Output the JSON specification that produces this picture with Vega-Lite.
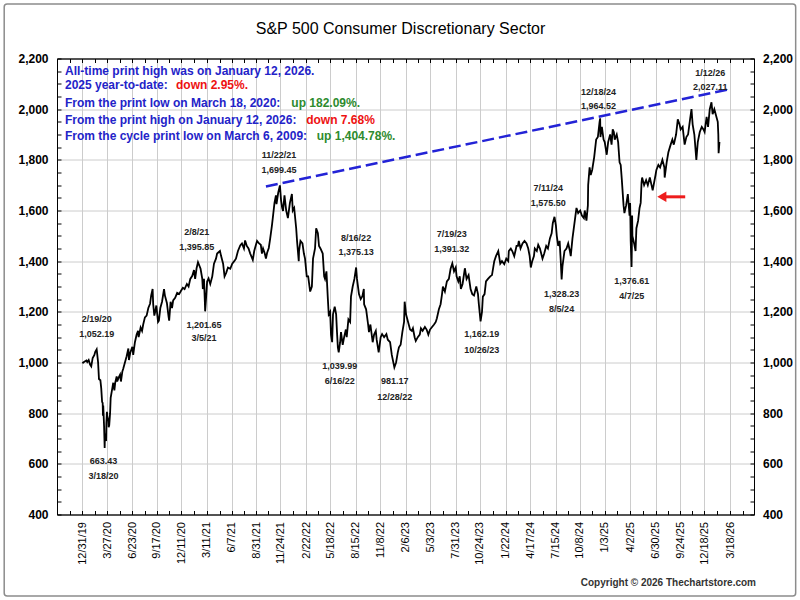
{
  "$schema": "https://vega.github.io/schema/vega-lite/v6.json",
  "width": 697,
  "height": 456,
  "autosize": "none",
  "padding": {"left": 57, "top": 58.5, "right": 46, "bottom": 85.5},
  "background": "white",
  "title": {
    "text": "S&P 500 Consumer Discretionary Sector",
    "fontSize": 16,
    "fontWeight": "normal",
    "color": "black",
    "anchor": "middle",
    "frame": "group",
    "baseline": "alphabetic",
    "offset": -47,
    "dx": -5
  },
  "config": {
    "font": "Liberation Sans",
    "view": {"stroke": "black", "strokeWidth": 1},
    "axis": {"domainColor": "black", "tickColor": "black", "gridColor": "#cccccc", "labelColor": "black"}
  },
  "datasets": {
    "price": [
      {"d":"2019-12-31","v":997},{"d":"2020-01-03","v":1000},{"d":"2020-01-08","v":1004},{"d":"2020-01-14","v":1008},
      {"d":"2020-01-17","v":1002},{"d":"2020-01-22","v":1010},{"d":"2020-01-27","v":992},{"d":"2020-01-31","v":985},
      {"d":"2020-02-05","v":1018},{"d":"2020-02-11","v":1030},{"d":"2020-02-14","v":1042},{"d":"2020-02-19","v":1052},
      {"d":"2020-02-21","v":1032},{"d":"2020-02-24","v":1000},{"d":"2020-02-27","v":935},{"d":"2020-03-03","v":930},
      {"d":"2020-03-06","v":898},{"d":"2020-03-09","v":845},{"d":"2020-03-11","v":840},{"d":"2020-03-12","v":790},
      {"d":"2020-03-13","v":830},{"d":"2020-03-16","v":747},{"d":"2020-03-18","v":663},{"d":"2020-03-19","v":720},
      {"d":"2020-03-20","v":700},{"d":"2020-03-23","v":690},{"d":"2020-03-24","v":760},{"d":"2020-03-26","v":805},
      {"d":"2020-03-27","v":790},{"d":"2020-03-31","v":770},{"d":"2020-04-01","v":745},{"d":"2020-04-03","v":752},
      {"d":"2020-04-06","v":800},{"d":"2020-04-08","v":860},{"d":"2020-04-14","v":900},{"d":"2020-04-17","v":920},
      {"d":"2020-04-21","v":890},{"d":"2020-04-24","v":920},{"d":"2020-04-29","v":945},{"d":"2020-05-01","v":925},
      {"d":"2020-05-06","v":940},{"d":"2020-05-11","v":952},{"d":"2020-05-14","v":925},{"d":"2020-05-19","v":965},
      {"d":"2020-05-22","v":975},{"d":"2020-05-28","v":1000},{"d":"2020-06-03","v":1025},{"d":"2020-06-09","v":1055},
      {"d":"2020-06-11","v":1010},{"d":"2020-06-16","v":1040},{"d":"2020-06-23","v":1062},{"d":"2020-06-26","v":1030},
      {"d":"2020-07-02","v":1080},{"d":"2020-07-08","v":1110},{"d":"2020-07-13","v":1125},{"d":"2020-07-15","v":1100},
      {"d":"2020-07-22","v":1138},{"d":"2020-07-27","v":1125},{"d":"2020-07-31","v":1150},{"d":"2020-08-06","v":1178},
      {"d":"2020-08-12","v":1185},{"d":"2020-08-18","v":1215},{"d":"2020-08-24","v":1232},{"d":"2020-08-28","v":1265},
      {"d":"2020-09-02","v":1290},{"d":"2020-09-04","v":1230},{"d":"2020-09-08","v":1185},{"d":"2020-09-11","v":1200},
      {"d":"2020-09-15","v":1225},{"d":"2020-09-21","v":1160},{"d":"2020-09-24","v":1165},{"d":"2020-09-29","v":1215},
      {"d":"2020-10-05","v":1240},{"d":"2020-10-12","v":1290},{"d":"2020-10-15","v":1265},{"d":"2020-10-22","v":1235},
      {"d":"2020-10-28","v":1180},{"d":"2020-10-30","v":1165},{"d":"2020-11-04","v":1240},{"d":"2020-11-09","v":1215},
      {"d":"2020-11-13","v":1245},{"d":"2020-11-20","v":1255},{"d":"2020-11-27","v":1275},{"d":"2020-12-04","v":1270},
      {"d":"2020-12-10","v":1282},{"d":"2020-12-17","v":1295},{"d":"2020-12-23","v":1290},{"d":"2020-12-31","v":1310},
      {"d":"2021-01-06","v":1300},{"d":"2021-01-12","v":1330},{"d":"2021-01-19","v":1342},{"d":"2021-01-25","v":1365},
      {"d":"2021-01-29","v":1330},{"d":"2021-02-03","v":1372},{"d":"2021-02-08","v":1396},{"d":"2021-02-12","v":1385},
      {"d":"2021-02-17","v":1370},{"d":"2021-02-23","v":1330},{"d":"2021-02-25","v":1290},{"d":"2021-03-01","v":1330},
      {"d":"2021-03-04","v":1240},{"d":"2021-03-05","v":1202},{"d":"2021-03-08","v":1250},{"d":"2021-03-12","v":1320},
      {"d":"2021-03-17","v":1332},{"d":"2021-03-23","v":1310},{"d":"2021-03-30","v":1340},{"d":"2021-04-05","v":1390},
      {"d":"2021-04-12","v":1410},{"d":"2021-04-16","v":1430},{"d":"2021-04-26","v":1440},{"d":"2021-04-30","v":1420},
      {"d":"2021-05-07","v":1390},{"d":"2021-05-12","v":1340},{"d":"2021-05-18","v":1355},{"d":"2021-05-24","v":1375},
      {"d":"2021-06-01","v":1370},{"d":"2021-06-08","v":1390},{"d":"2021-06-15","v":1400},{"d":"2021-06-21","v":1410},
      {"d":"2021-06-28","v":1440},{"d":"2021-07-06","v":1462},{"d":"2021-07-12","v":1470},{"d":"2021-07-19","v":1450},
      {"d":"2021-07-23","v":1482},{"d":"2021-07-29","v":1460},{"d":"2021-08-04","v":1450},{"d":"2021-08-10","v":1430},
      {"d":"2021-08-19","v":1405},{"d":"2021-08-24","v":1440},{"d":"2021-08-30","v":1465},{"d":"2021-09-03","v":1480},
      {"d":"2021-09-10","v":1470},{"d":"2021-09-16","v":1465},{"d":"2021-09-20","v":1430},{"d":"2021-09-24","v":1450},
      {"d":"2021-09-30","v":1430},{"d":"2021-10-04","v":1410},{"d":"2021-10-08","v":1432},{"d":"2021-10-14","v":1452},
      {"d":"2021-10-19","v":1490},{"d":"2021-10-25","v":1540},{"d":"2021-10-29","v":1580},{"d":"2021-11-03","v":1630},
      {"d":"2021-11-08","v":1660},{"d":"2021-11-10","v":1625},{"d":"2021-11-16","v":1670},{"d":"2021-11-22","v":1699},
      {"d":"2021-11-26","v":1640},{"d":"2021-11-30","v":1610},{"d":"2021-12-03","v":1598},{"d":"2021-12-08","v":1660},
      {"d":"2021-12-14","v":1600},{"d":"2021-12-20","v":1570},{"d":"2021-12-27","v":1630},{"d":"2022-01-03","v":1665},
      {"d":"2022-01-06","v":1600},{"d":"2022-01-11","v":1610},{"d":"2022-01-18","v":1530},{"d":"2022-01-21","v":1480},
      {"d":"2022-01-27","v":1400},{"d":"2022-01-28","v":1440},{"d":"2022-02-02","v":1480},{"d":"2022-02-09","v":1470},
      {"d":"2022-02-14","v":1430},{"d":"2022-02-18","v":1410},{"d":"2022-02-24","v":1340},{"d":"2022-03-01","v":1340},
      {"d":"2022-03-08","v":1280},{"d":"2022-03-14","v":1300},{"d":"2022-03-18","v":1410},{"d":"2022-03-25","v":1450},
      {"d":"2022-03-29","v":1530},{"d":"2022-04-04","v":1510},{"d":"2022-04-08","v":1460},{"d":"2022-04-13","v":1450},
      {"d":"2022-04-21","v":1430},{"d":"2022-04-26","v":1340},{"d":"2022-04-29","v":1330},{"d":"2022-05-04","v":1360},
      {"d":"2022-05-09","v":1250},{"d":"2022-05-12","v":1190},{"d":"2022-05-17","v":1200},{"d":"2022-05-20","v":1110},
      {"d":"2022-05-24","v":1080},{"d":"2022-05-27","v":1190},{"d":"2022-06-02","v":1220},{"d":"2022-06-07","v":1190},
      {"d":"2022-06-10","v":1120},{"d":"2022-06-13","v":1060},{"d":"2022-06-16","v":1040},{"d":"2022-06-21","v":1080},
      {"d":"2022-06-24","v":1120},{"d":"2022-06-30","v":1070},{"d":"2022-07-05","v":1100},{"d":"2022-07-11","v":1130},
      {"d":"2022-07-14","v":1100},{"d":"2022-07-20","v":1170},{"d":"2022-07-26","v":1160},{"d":"2022-07-29","v":1260},
      {"d":"2022-08-04","v":1300},{"d":"2022-08-10","v":1330},{"d":"2022-08-16","v":1375},{"d":"2022-08-19","v":1330},
      {"d":"2022-08-26","v":1270},{"d":"2022-09-01","v":1250},{"d":"2022-09-07","v":1262},{"d":"2022-09-12","v":1290},
      {"d":"2022-09-13","v":1230},{"d":"2022-09-20","v":1210},{"d":"2022-09-27","v":1150},{"d":"2022-09-30","v":1120},
      {"d":"2022-10-05","v":1150},{"d":"2022-10-13","v":1080},{"d":"2022-10-18","v":1110},{"d":"2022-10-24","v":1125},
      {"d":"2022-10-27","v":1090},{"d":"2022-11-03","v":1040},{"d":"2022-11-10","v":1100},{"d":"2022-11-15","v":1112},
      {"d":"2022-11-22","v":1100},{"d":"2022-11-30","v":1112},{"d":"2022-12-05","v":1090},{"d":"2022-12-13","v":1080},
      {"d":"2022-12-19","v":1030},{"d":"2022-12-28","v":981},{"d":"2023-01-03","v":1000},{"d":"2023-01-09","v":1040},
      {"d":"2023-01-13","v":1060},{"d":"2023-01-19","v":1070},{"d":"2023-01-25","v":1120},{"d":"2023-01-31","v":1160},
      {"d":"2023-02-02","v":1240},{"d":"2023-02-07","v":1190},{"d":"2023-02-14","v":1160},{"d":"2023-02-21","v":1130},
      {"d":"2023-02-27","v":1125},{"d":"2023-03-03","v":1135},{"d":"2023-03-09","v":1100},{"d":"2023-03-13","v":1085},
      {"d":"2023-03-20","v":1100},{"d":"2023-03-27","v":1110},{"d":"2023-03-31","v":1135},{"d":"2023-04-06","v":1125},
      {"d":"2023-04-14","v":1140},{"d":"2023-04-20","v":1130},{"d":"2023-04-26","v":1110},{"d":"2023-05-02","v":1130},
      {"d":"2023-05-09","v":1140},{"d":"2023-05-16","v":1150},{"d":"2023-05-22","v":1160},{"d":"2023-05-26","v":1175},
      {"d":"2023-06-02","v":1210},{"d":"2023-06-08","v":1230},{"d":"2023-06-13","v":1270},{"d":"2023-06-16","v":1300},
      {"d":"2023-06-23","v":1280},{"d":"2023-06-30","v":1320},{"d":"2023-07-07","v":1330},{"d":"2023-07-13","v":1370},
      {"d":"2023-07-19","v":1391},{"d":"2023-07-25","v":1360},{"d":"2023-07-31","v":1375},{"d":"2023-08-03","v":1340},
      {"d":"2023-08-09","v":1320},{"d":"2023-08-14","v":1340},{"d":"2023-08-18","v":1290},{"d":"2023-08-24","v":1310},
      {"d":"2023-09-01","v":1372},{"d":"2023-09-07","v":1330},{"d":"2023-09-14","v":1345},{"d":"2023-09-21","v":1290},
      {"d":"2023-09-27","v":1270},{"d":"2023-10-03","v":1265},{"d":"2023-10-11","v":1300},{"d":"2023-10-17","v":1270},
      {"d":"2023-10-20","v":1230},{"d":"2023-10-26","v":1162},{"d":"2023-10-31","v":1200},{"d":"2023-11-03","v":1260},
      {"d":"2023-11-09","v":1270},{"d":"2023-11-14","v":1320},{"d":"2023-11-21","v":1330},{"d":"2023-11-29","v":1340},
      {"d":"2023-12-05","v":1345},{"d":"2023-12-13","v":1400},{"d":"2023-12-19","v":1420},{"d":"2023-12-27","v":1440},
      {"d":"2024-01-03","v":1390},{"d":"2024-01-09","v":1400},{"d":"2024-01-17","v":1388},{"d":"2024-01-24","v":1410},
      {"d":"2024-01-31","v":1400},{"d":"2024-02-02","v":1440},{"d":"2024-02-09","v":1450},{"d":"2024-02-14","v":1440},
      {"d":"2024-02-21","v":1420},{"d":"2024-02-29","v":1460},{"d":"2024-03-05","v":1460},{"d":"2024-03-08","v":1480},
      {"d":"2024-03-14","v":1450},{"d":"2024-03-21","v":1470},{"d":"2024-03-28","v":1480},{"d":"2024-04-04","v":1470},
      {"d":"2024-04-10","v":1450},{"d":"2024-04-15","v":1420},{"d":"2024-04-19","v":1375},{"d":"2024-04-24","v":1400},
      {"d":"2024-04-30","v":1420},{"d":"2024-05-03","v":1450},{"d":"2024-05-10","v":1440},{"d":"2024-05-15","v":1465},
      {"d":"2024-05-21","v":1450},{"d":"2024-05-30","v":1410},{"d":"2024-06-05","v":1430},{"d":"2024-06-12","v":1460},
      {"d":"2024-06-18","v":1450},{"d":"2024-06-25","v":1490},{"d":"2024-07-01","v":1510},{"d":"2024-07-05","v":1550},
      {"d":"2024-07-11","v":1575},{"d":"2024-07-16","v":1540},{"d":"2024-07-19","v":1500},{"d":"2024-07-24","v":1460},
      {"d":"2024-07-29","v":1480},{"d":"2024-08-02","v":1400},{"d":"2024-08-05","v":1328},{"d":"2024-08-08","v":1380},
      {"d":"2024-08-15","v":1440},{"d":"2024-08-22","v":1450},{"d":"2024-08-28","v":1470},{"d":"2024-09-03","v":1440},
      {"d":"2024-09-06","v":1420},{"d":"2024-09-12","v":1490},{"d":"2024-09-19","v":1550},{"d":"2024-09-26","v":1610},
      {"d":"2024-10-02","v":1590},{"d":"2024-10-09","v":1600},{"d":"2024-10-15","v":1580},{"d":"2024-10-22","v":1570},
      {"d":"2024-10-25","v":1600},{"d":"2024-10-31","v":1560},{"d":"2024-11-05","v":1620},{"d":"2024-11-06","v":1700},
      {"d":"2024-11-11","v":1770},{"d":"2024-11-15","v":1740},{"d":"2024-11-20","v":1760},{"d":"2024-11-27","v":1810},
      {"d":"2024-12-04","v":1880},{"d":"2024-12-10","v":1890},{"d":"2024-12-16","v":1950},{"d":"2024-12-18","v":1964},
      {"d":"2024-12-19","v":1890},{"d":"2024-12-24","v":1930},{"d":"2024-12-30","v":1880},{"d":"2025-01-03","v":1870},
      {"d":"2025-01-10","v":1820},{"d":"2025-01-15","v":1870},{"d":"2025-01-22","v":1900},{"d":"2025-01-27","v":1860},
      {"d":"2025-01-31","v":1920},{"d":"2025-02-04","v":1910},{"d":"2025-02-07","v":1880},{"d":"2025-02-14","v":1900},
      {"d":"2025-02-19","v":1870},{"d":"2025-02-24","v":1790},{"d":"2025-02-28","v":1780},{"d":"2025-03-04","v":1720},
      {"d":"2025-03-10","v":1620},{"d":"2025-03-13","v":1590},{"d":"2025-03-19","v":1620},{"d":"2025-03-25","v":1665},
      {"d":"2025-03-31","v":1580},{"d":"2025-04-02","v":1630},{"d":"2025-04-03","v":1560},{"d":"2025-04-04","v":1480},
      {"d":"2025-04-07","v":1377},{"d":"2025-04-08","v":1450},{"d":"2025-04-09","v":1580},{"d":"2025-04-10","v":1500},
      {"d":"2025-04-16","v":1470},{"d":"2025-04-21","v":1440},{"d":"2025-04-24","v":1530},{"d":"2025-04-30","v":1560},
      {"d":"2025-05-05","v":1610},{"d":"2025-05-09","v":1630},{"d":"2025-05-12","v":1710},{"d":"2025-05-14","v":1730},
      {"d":"2025-05-21","v":1700},{"d":"2025-05-28","v":1720},{"d":"2025-06-03","v":1700},{"d":"2025-06-10","v":1730},
      {"d":"2025-06-16","v":1700},{"d":"2025-06-20","v":1680},{"d":"2025-06-25","v":1710},{"d":"2025-06-30","v":1740},
      {"d":"2025-07-03","v":1760},{"d":"2025-07-10","v":1780},{"d":"2025-07-16","v":1770},{"d":"2025-07-24","v":1800},
      {"d":"2025-07-31","v":1770},{"d":"2025-08-01","v":1730},{"d":"2025-08-08","v":1790},{"d":"2025-08-14","v":1830},
      {"d":"2025-08-22","v":1860},{"d":"2025-08-28","v":1880},{"d":"2025-09-02","v":1860},{"d":"2025-09-10","v":1900},
      {"d":"2025-09-16","v":1960},{"d":"2025-09-22","v":1940},{"d":"2025-09-26","v":1920},{"d":"2025-10-03","v":1930},
      {"d":"2025-10-10","v":1860},{"d":"2025-10-16","v":1890},{"d":"2025-10-22","v":1900},{"d":"2025-10-29","v":1960},
      {"d":"2025-11-03","v":2000},{"d":"2025-11-07","v":1940},{"d":"2025-11-13","v":1900},{"d":"2025-11-20","v":1800},
      {"d":"2025-11-25","v":1870},{"d":"2025-12-02","v":1910},{"d":"2025-12-09","v":1930},{"d":"2025-12-15","v":1920},
      {"d":"2025-12-19","v":1910},{"d":"2025-12-26","v":1970},{"d":"2025-12-31","v":1930},{"d":"2026-01-06","v":2000},
      {"d":"2026-01-12","v":2027},{"d":"2026-01-16","v":1980},{"d":"2026-01-22","v":2000},{"d":"2026-01-28","v":1975},
      {"d":"2026-02-03","v":1950},{"d":"2026-02-05","v":1900},{"d":"2026-02-06","v":1826},{"d":"2026-02-09","v":1871}
    ],
    "notes": [
      {"d":"2020-02-19","v":1170,"t":"2/19/20"},{"d":"2020-02-19","v":1112,"t":"1,052.19"},
      {"d":"2020-03-14","v":611,"t":"663.43"},{"d":"2020-03-14","v":553,"t":"3/18/20"},
      {"d":"2021-02-04","v":1516,"t":"2/8/21"},{"d":"2021-02-04","v":1457,"t":"1,395.85"},
      {"d":"2021-03-01","v":1148,"t":"1,201.65"},{"d":"2021-03-01","v":1095,"t":"3/5/21"},
      {"d":"2021-11-19","v":1819,"t":"11/22/21"},{"d":"2021-11-19","v":1760,"t":"1,699.45"},
      {"d":"2022-08-16","v":1492,"t":"8/16/22"},{"d":"2022-08-16","v":1435,"t":"1,375.13"},
      {"d":"2022-06-20","v":986,"t":"1,039.99"},{"d":"2022-06-20","v":928,"t":"6/16/22"},
      {"d":"2022-12-29","v":928,"t":"981.17"},{"d":"2022-12-29","v":865,"t":"12/28/22"},
      {"d":"2023-07-17","v":1506,"t":"7/19/23"},{"d":"2023-07-17","v":1448,"t":"1,391.32"},
      {"d":"2023-10-30","v":1111,"t":"1,162.19"},{"d":"2023-10-30","v":1049,"t":"10/26/23"},
      {"d":"2024-06-19","v":1688,"t":"7/11/24"},{"d":"2024-06-19","v":1628,"t":"1,575.50"},
      {"d":"2024-08-05","v":1270,"t":"1,328.23"},{"d":"2024-08-05","v":1210,"t":"8/5/24"},
      {"d":"2024-12-12","v":2067,"t":"12/18/24"},{"d":"2024-12-12","v":2012,"t":"1,964.52"},
      {"d":"2025-04-08","v":1323,"t":"1,376.61"},{"d":"2025-04-08","v":1262,"t":"4/7/25"},
      {"d":"2026-01-08","v":2142,"t":"1/12/26"},{"d":"2026-01-08","v":2086,"t":"2,027.11"}
    ],
    "headBlue": [
      {"d":"2019-10-31","v":2152,"t":"All-time print high was on January 12, 2026."},
      {"d":"2019-10-31","v":2095,"t":"2025 year-to-date:"},
      {"d":"2019-10-31","v":2025,"t":"From the print low on March 18, 2020:"},
      {"d":"2019-10-31","v":1957,"t":"From the print high on January 12, 2026:"},
      {"d":"2019-10-31","v":1894,"t":"From the cycle print low on March 6, 2009:"}
    ],
    "headRed": [
      {"d":"2020-11-23","v":2095,"t":"down 2.95%."},
      {"d":"2022-02-22","v":1957,"t":"down 7.68%"}
    ],
    "headGreen": [
      {"d":"2022-01-01","v":2025,"t":"up 182.09%."},
      {"d":"2022-03-31","v":1894,"t":"up 1,404.78%."}
    ]
  },
  "resolve": {"axis": {"x": "independent", "y": "independent"}},
  "layer": [
    {
      "data": {"values": [{}]},
      "mark": {"type": "rect", "filled": false, "stroke": "#8c8c8c", "strokeWidth": 1.5, "cornerRadius": 3},
      "encoding": {
        "x": {"datum": {"year": 2019, "month": 4, "date": 1, "utc": true}, "type": "temporal", "axis": null},
        "x2": {"datum": {"year": 2026, "month": 11, "date": 3, "utc": true}},
        "y": {"datum": 2415, "type": "quantitative", "axis": null},
        "y2": {"datum": 78}
      }
    },
    {
      "data": {"name": "price"},
      "mark": {"type": "line", "color": "black", "strokeWidth": 1.8},
      "encoding": {
        "x": {
          "field": "d", "type": "temporal",
          "scale": {"type": "utc", "domain": [{"year": 2019, "month": 10, "date": 3, "utc": true}, {"year": 2026, "month": 6, "date": 10, "utc": true}]},
          "axis": {
            "orient": "bottom", "title": null, "grid": true,
            "gridOpacity": {"condition": {"test": "utchours(datum.value) == 12", "value": 0}, "value": 1},
            "tickSize": -4, "labelAngle": -90, "labelFontSize": 11, "labelPadding": 11,
            "labelOverlap": false, "labelFlush": false,
            "labelExpr": "utchours(datum.value) == 12 ? '' : utcFormat(datum.value, '%-m/%-d/%y')",
            "values": [
              {"year":2019,"month":12,"date":31,"utc":true},{"year":2020,"month":3,"date":27,"utc":true},{"year":2020,"month":6,"date":23,"utc":true},
              {"year":2020,"month":9,"date":17,"utc":true},{"year":2020,"month":12,"date":11,"utc":true},{"year":2021,"month":3,"date":11,"utc":true},
              {"year":2021,"month":6,"date":7,"utc":true},{"year":2021,"month":8,"date":31,"utc":true},{"year":2021,"month":11,"date":24,"utc":true},
              {"year":2022,"month":2,"date":22,"utc":true},{"year":2022,"month":5,"date":18,"utc":true},{"year":2022,"month":8,"date":15,"utc":true},
              {"year":2022,"month":11,"date":8,"utc":true},{"year":2023,"month":2,"date":6,"utc":true},{"year":2023,"month":5,"date":3,"utc":true},
              {"year":2023,"month":7,"date":31,"utc":true},{"year":2023,"month":10,"date":24,"utc":true},{"year":2024,"month":1,"date":22,"utc":true},
              {"year":2024,"month":4,"date":17,"utc":true},{"year":2024,"month":7,"date":15,"utc":true},{"year":2024,"month":10,"date":8,"utc":true},
              {"year":2025,"month":1,"date":3,"utc":true},{"year":2025,"month":4,"date":2,"utc":true},{"year":2025,"month":6,"date":30,"utc":true},
              {"year":2025,"month":9,"date":24,"utc":true},{"year":2025,"month":12,"date":18,"utc":true},{"year":2026,"month":3,"date":18,"utc":true},
              {"year":2019,"month":11,"date":17,"hours":12,"utc":true},{"year":2020,"month":2,"date":13,"hours":12,"utc":true},{"year":2020,"month":5,"date":10,"hours":12,"utc":true},
              {"year":2020,"month":8,"date":5,"hours":12,"utc":true},{"year":2020,"month":10,"date":29,"hours":12,"utc":true},{"year":2021,"month":1,"date":25,"hours":12,"utc":true},
              {"year":2021,"month":4,"date":24,"hours":12,"utc":true},{"year":2021,"month":7,"date":19,"hours":12,"utc":true},{"year":2021,"month":10,"date":12,"hours":12,"utc":true},
              {"year":2022,"month":1,"date":8,"hours":12,"utc":true},{"year":2022,"month":4,"date":5,"hours":12,"utc":true},{"year":2022,"month":7,"date":1,"hours":12,"utc":true},
              {"year":2022,"month":9,"date":26,"hours":12,"utc":true},{"year":2022,"month":12,"date":23,"hours":12,"utc":true},{"year":2023,"month":3,"date":21,"hours":12,"utc":true},
              {"year":2023,"month":6,"date":16,"hours":12,"utc":true},{"year":2023,"month":9,"date":11,"hours":12,"utc":true},{"year":2023,"month":12,"date":8,"hours":12,"utc":true},
              {"year":2024,"month":3,"date":5,"hours":12,"utc":true},{"year":2024,"month":5,"date":31,"hours":12,"utc":true},{"year":2024,"month":8,"date":26,"hours":12,"utc":true},
              {"year":2024,"month":11,"date":20,"hours":12,"utc":true},{"year":2025,"month":2,"date":16,"hours":12,"utc":true},{"year":2025,"month":5,"date":16,"hours":12,"utc":true},
              {"year":2025,"month":8,"date":12,"hours":12,"utc":true},{"year":2025,"month":11,"date":5,"hours":12,"utc":true},{"year":2026,"month":2,"date":1,"hours":12,"utc":true},
              {"year":2026,"month":5,"date":1,"hours":12,"utc":true}
            ]
          }
        },
        "y": {
          "field": "v", "type": "quantitative",
          "scale": {"domain": [400, 2200], "nice": false, "zero": false},
          "axis": {
            "orient": "left", "title": null, "grid": true,
            "gridOpacity": {"condition": {"test": "datum.value % 200 != 0", "value": 0}, "value": 1},
            "tickSize": -4, "labelFontSize": 12, "labelFontWeight": "bold", "labelPadding": 13, "labelOverlap": false,
            "labelExpr": "datum.value % 200 == 0 ? format(datum.value, ',') : ''",
            "values": [400,450,500,550,600,650,700,750,800,850,900,950,1000,1050,1100,1150,1200,1250,1300,1350,1400,1450,1500,1550,1600,1650,1700,1750,1800,1850,1900,1950,2000,2050,2100,2150,2200]
          }
        }
      }
    },
    {
      "data": {"values": [{"d": "2021-10-04", "v": 1695}, {"d": "2026-03-10", "v": 2077}]},
      "mark": {"type": "line", "color": "#2323d6", "strokeWidth": 2.5, "strokeDash": [12, 5]},
      "encoding": {
        "x": {
          "field": "d", "type": "temporal",
          "axis": {
            "orient": "top", "title": null, "grid": false, "labels": false, "tickSize": -4,
            "values": [
              {"year":2019,"month":12,"date":31,"utc":true},{"year":2020,"month":3,"date":27,"utc":true},{"year":2020,"month":6,"date":23,"utc":true},
              {"year":2020,"month":9,"date":17,"utc":true},{"year":2020,"month":12,"date":11,"utc":true},{"year":2021,"month":3,"date":11,"utc":true},
              {"year":2021,"month":6,"date":7,"utc":true},{"year":2021,"month":8,"date":31,"utc":true},{"year":2021,"month":11,"date":24,"utc":true},
              {"year":2022,"month":2,"date":22,"utc":true},{"year":2022,"month":5,"date":18,"utc":true},{"year":2022,"month":8,"date":15,"utc":true},
              {"year":2022,"month":11,"date":8,"utc":true},{"year":2023,"month":2,"date":6,"utc":true},{"year":2023,"month":5,"date":3,"utc":true},
              {"year":2023,"month":7,"date":31,"utc":true},{"year":2023,"month":10,"date":24,"utc":true},{"year":2024,"month":1,"date":22,"utc":true},
              {"year":2024,"month":4,"date":17,"utc":true},{"year":2024,"month":7,"date":15,"utc":true},{"year":2024,"month":10,"date":8,"utc":true},
              {"year":2025,"month":1,"date":3,"utc":true},{"year":2025,"month":4,"date":2,"utc":true},{"year":2025,"month":6,"date":30,"utc":true},
              {"year":2025,"month":9,"date":24,"utc":true},{"year":2025,"month":12,"date":18,"utc":true},{"year":2026,"month":3,"date":18,"utc":true},
              {"year":2019,"month":11,"date":17,"hours":12,"utc":true},{"year":2020,"month":2,"date":13,"hours":12,"utc":true},{"year":2020,"month":5,"date":10,"hours":12,"utc":true},
              {"year":2020,"month":8,"date":5,"hours":12,"utc":true},{"year":2020,"month":10,"date":29,"hours":12,"utc":true},{"year":2021,"month":1,"date":25,"hours":12,"utc":true},
              {"year":2021,"month":4,"date":24,"hours":12,"utc":true},{"year":2021,"month":7,"date":19,"hours":12,"utc":true},{"year":2021,"month":10,"date":12,"hours":12,"utc":true},
              {"year":2022,"month":1,"date":8,"hours":12,"utc":true},{"year":2022,"month":4,"date":5,"hours":12,"utc":true},{"year":2022,"month":7,"date":1,"hours":12,"utc":true},
              {"year":2022,"month":9,"date":26,"hours":12,"utc":true},{"year":2022,"month":12,"date":23,"hours":12,"utc":true},{"year":2023,"month":3,"date":21,"hours":12,"utc":true},
              {"year":2023,"month":6,"date":16,"hours":12,"utc":true},{"year":2023,"month":9,"date":11,"hours":12,"utc":true},{"year":2023,"month":12,"date":8,"hours":12,"utc":true},
              {"year":2024,"month":3,"date":5,"hours":12,"utc":true},{"year":2024,"month":5,"date":31,"hours":12,"utc":true},{"year":2024,"month":8,"date":26,"hours":12,"utc":true},
              {"year":2024,"month":11,"date":20,"hours":12,"utc":true},{"year":2025,"month":2,"date":16,"hours":12,"utc":true},{"year":2025,"month":5,"date":16,"hours":12,"utc":true},
              {"year":2025,"month":8,"date":12,"hours":12,"utc":true},{"year":2025,"month":11,"date":5,"hours":12,"utc":true},{"year":2026,"month":2,"date":1,"hours":12,"utc":true},
              {"year":2026,"month":5,"date":1,"hours":12,"utc":true}
            ]
          }
        },
        "y": {
          "field": "v", "type": "quantitative",
          "axis": {
            "orient": "right", "title": null, "grid": false,
            "tickSize": -4, "labelFontSize": 12, "labelFontWeight": "bold", "labelPadding": 12.5, "labelOverlap": false,
            "labelExpr": "datum.value % 200 == 0 ? format(datum.value, ',') : ''",
            "values": [400,450,500,550,600,650,700,750,800,850,900,950,1000,1050,1100,1150,1200,1250,1300,1350,1400,1450,1500,1550,1600,1650,1700,1750,1800,1850,1900,1950,2000,2050,2100,2150,2200]
          }
        }
      }
    },
    {
      "data": {"values": [{"d": "2025-07-22", "e": "2025-10-12", "v": 1654}]},
      "mark": {"type": "rule", "color": "#ee1c1c", "strokeWidth": 3},
      "encoding": {
        "x": {"field": "d", "type": "temporal", "axis": null},
        "x2": {"field": "e"},
        "y": {"field": "v", "type": "quantitative", "axis": null}
      }
    },
    {
      "data": {"values": [{"d": "2025-07-22", "v": 1654}]},
      "mark": {"type": "point", "shape": "triangle-left", "filled": true, "color": "#ee1c1c", "size": 110, "opacity": 1},
      "encoding": {
        "x": {"field": "d", "type": "temporal", "axis": null},
        "y": {"field": "v", "type": "quantitative", "axis": null}
      }
    },
    {
      "data": {"name": "notes"},
      "mark": {"type": "text", "fontSize": 9, "fontWeight": "bold", "color": "#222222", "align": "center", "baseline": "middle"},
      "encoding": {
        "x": {"field": "d", "type": "temporal", "axis": null},
        "y": {"field": "v", "type": "quantitative", "axis": null},
        "text": {"field": "t"}
      }
    },
    {
      "data": {"name": "headBlue"},
      "mark": {"type": "text", "fontSize": 12, "fontWeight": "bold", "color": "#2323c8", "align": "left", "baseline": "middle"},
      "encoding": {
        "x": {"field": "d", "type": "temporal", "axis": null},
        "y": {"field": "v", "type": "quantitative", "axis": null},
        "text": {"field": "t"}
      }
    },
    {
      "data": {"name": "headRed"},
      "mark": {"type": "text", "fontSize": 12, "fontWeight": "bold", "color": "#ee1111", "align": "left", "baseline": "middle"},
      "encoding": {
        "x": {"field": "d", "type": "temporal", "axis": null},
        "y": {"field": "v", "type": "quantitative", "axis": null},
        "text": {"field": "t"}
      }
    },
    {
      "data": {"name": "headGreen"},
      "mark": {"type": "text", "fontSize": 12, "fontWeight": "bold", "color": "#2e8b2e", "align": "left", "baseline": "middle"},
      "encoding": {
        "x": {"field": "d", "type": "temporal", "axis": null},
        "y": {"field": "v", "type": "quantitative", "axis": null},
        "text": {"field": "t"}
      }
    },
    {
      "data": {"values": [{}]},
      "mark": {"type": "text", "fontSize": 10, "fontWeight": "bold", "color": "#333333", "align": "right", "baseline": "middle", "text": "Copyright © 2026 Thechartstore.com"},
      "encoding": {
        "x": {"datum": {"year": 2026, "month": 6, "date": 17, "utc": true}, "type": "temporal", "axis": null},
        "y": {"datum": 128, "type": "quantitative", "axis": null}
      }
    }
  ]
}
